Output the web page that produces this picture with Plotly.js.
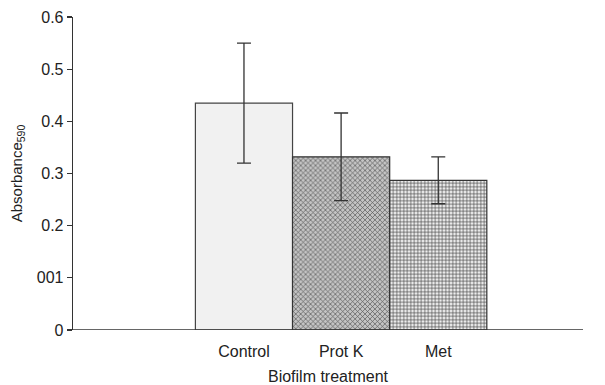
<!DOCTYPE html>
<html><head><meta charset="utf-8">
<script src="https://cdn.plot.ly/plotly-3.0.1.min.js"></script>
<style>body{margin:0;background:#fff}#chart{width:605px;height:385px}</style>
</head><body><div id="chart"></div>
<script>
const categories = ["Control", "Prot K", "Met"];
const values = [0.435, 0.332, 0.287];
const errors = [0.115, 0.084, 0.045];
const yTickVals = [0, 0.1, 0.2, 0.3, 0.4, 0.5, 0.6];
const yTickText = ["0", "001", "0.2", "0.3", "0.4", "0.5", "0.6"];

const xPos = categories.map((c, i) => i);
const traces = categories.map((c, i) => ({
  type: "bar",
  x: [xPos[i]],
  y: [values[i]],
  width: 1,
  error_y: {type: "data", array: [errors[i]], visible: true, color: "#333", thickness: 1.3, width: 7},
  marker: [
    {color: "#f1f1f1", line: {color: "#444", width: 1.2}},
    {color: "#a8a8a8", line: {color: "#333", width: 1.2},
      pattern: {shape: "x", fgcolor: "#555", bgcolor: "#c4c4c4", size: 3.5, solidity: 0.35}},
    {color: "#bbbbbb", line: {color: "#333", width: 1.2},
      pattern: {shape: "+", fgcolor: "#444", bgcolor: "#eeeeee", size: 3.5, solidity: 0.35}}
  ][i],
  showlegend: false,
  hoverinfo: "skip"
}));

Plotly.newPlot("chart", traces, {
  width: 605, height: 385,
  margin: {l: 73, r: 22, t: 17, b: 55},
  paper_bgcolor: "#fff", plot_bgcolor: "#fff",
  font: {family: "Liberation Sans, Arial, sans-serif", color: "#222", size: 16},
  bargap: 0,
  xaxis: {
    range: [-1.76, 3.49],
    tickvals: xPos, ticktext: categories,
    showgrid: false, zeroline: false, showline: false,
    ticks: "", tickfont: {size: 16}, ticklabelstandoff: 10,
    title: {text: "Biofilm treatment", font: {size: 16}, standoff: 12}
  },
  yaxis: {
    range: [0, 0.6],
    tickvals: yTickVals, ticktext: yTickText,
    showgrid: false, zeroline: false,
    showline: true, linecolor: "#333", linewidth: 1.3,
    ticks: "outside", ticklen: 5, tickcolor: "#333", tickwidth: 1.3,
    tickfont: {size: 16},
    title: {text: "Absorbance<sub>590</sub>", font: {size: 15}, standoff: 10}
  },
  shapes: [{type: "line", xref: "paper", yref: "y", x0: 0, x1: 1, y0: 0, y1: 0,
    line: {color: "#333", width: 1.3}}]
}, {staticPlot: true});
</script></body></html>
